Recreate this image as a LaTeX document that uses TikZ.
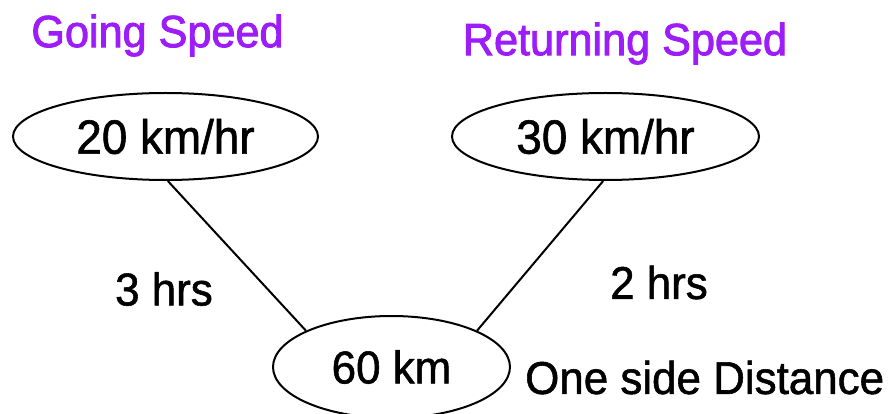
\documentclass[tikz,border=0pt]{standalone}
\usepackage{fontspec}
\setmainfont[FakeStretch=0.955,FakeBold=1.2]{Liberation Sans}
\newfontfamily\headfont[FakeStretch=0.96,FakeBold=2]{Liberation Sans}
\usetikzlibrary{shapes.geometric}
\definecolor{headpurple}{RGB}{157,28,250}
\begin{document}
\begin{tikzpicture}[x=1pt,y=-1pt,
  bubble/.style={draw=black,line width=2pt,ellipse,inner sep=0pt,
    text depth=0pt},
  speedtxt/.style={font=\fontsize{48}{54}\selectfont,text height=34.4pt},
  body/.style={inner sep=0pt,text height=32.9pt,text depth=0pt,
    font=\fontsize{46}{52}\selectfont},
  heading/.style={inner sep=0pt,text height=32.2pt,text depth=0pt,
    text=headpurple,font=\headfont\fontsize{45}{50}\selectfont},
  link/.style={line width=2pt,black}]
\useasboundingbox (0,0) rectangle (892,414);
\fill[white] (0,0) rectangle (892,414);

% headings
\node[heading] (hgo) at (157.5,31) {Going Speed};
\node[heading] (hret) at (625,39) {Returning Speed};

% speed bubbles and distance bubble
\node[bubble,speedtxt,minimum width=305pt,minimum height=87pt] (go) at (165.5,136.5) {20 km/hr};
\node[bubble,speedtxt,minimum width=307pt,minimum height=87pt] (ret) at (605.5,136.5) {30 km/hr};
\node[bubble,body,minimum width=237pt,minimum height=102pt,inner sep=0pt] (dist) at (391.5,367) {60 km};

% connectors
\draw[link] (go.-87) -- (dist.157);
\draw[link] (ret.-93) -- (dist.23);

% time labels and caption
\node[body] (tgo) at (164,289) {3 hrs};
\node[body] (tret) at (659,282.5) {2 hrs};
\node[body,anchor=west] (cap) at (525,377.5) {One side Distance};
\end{tikzpicture}
\end{document}
